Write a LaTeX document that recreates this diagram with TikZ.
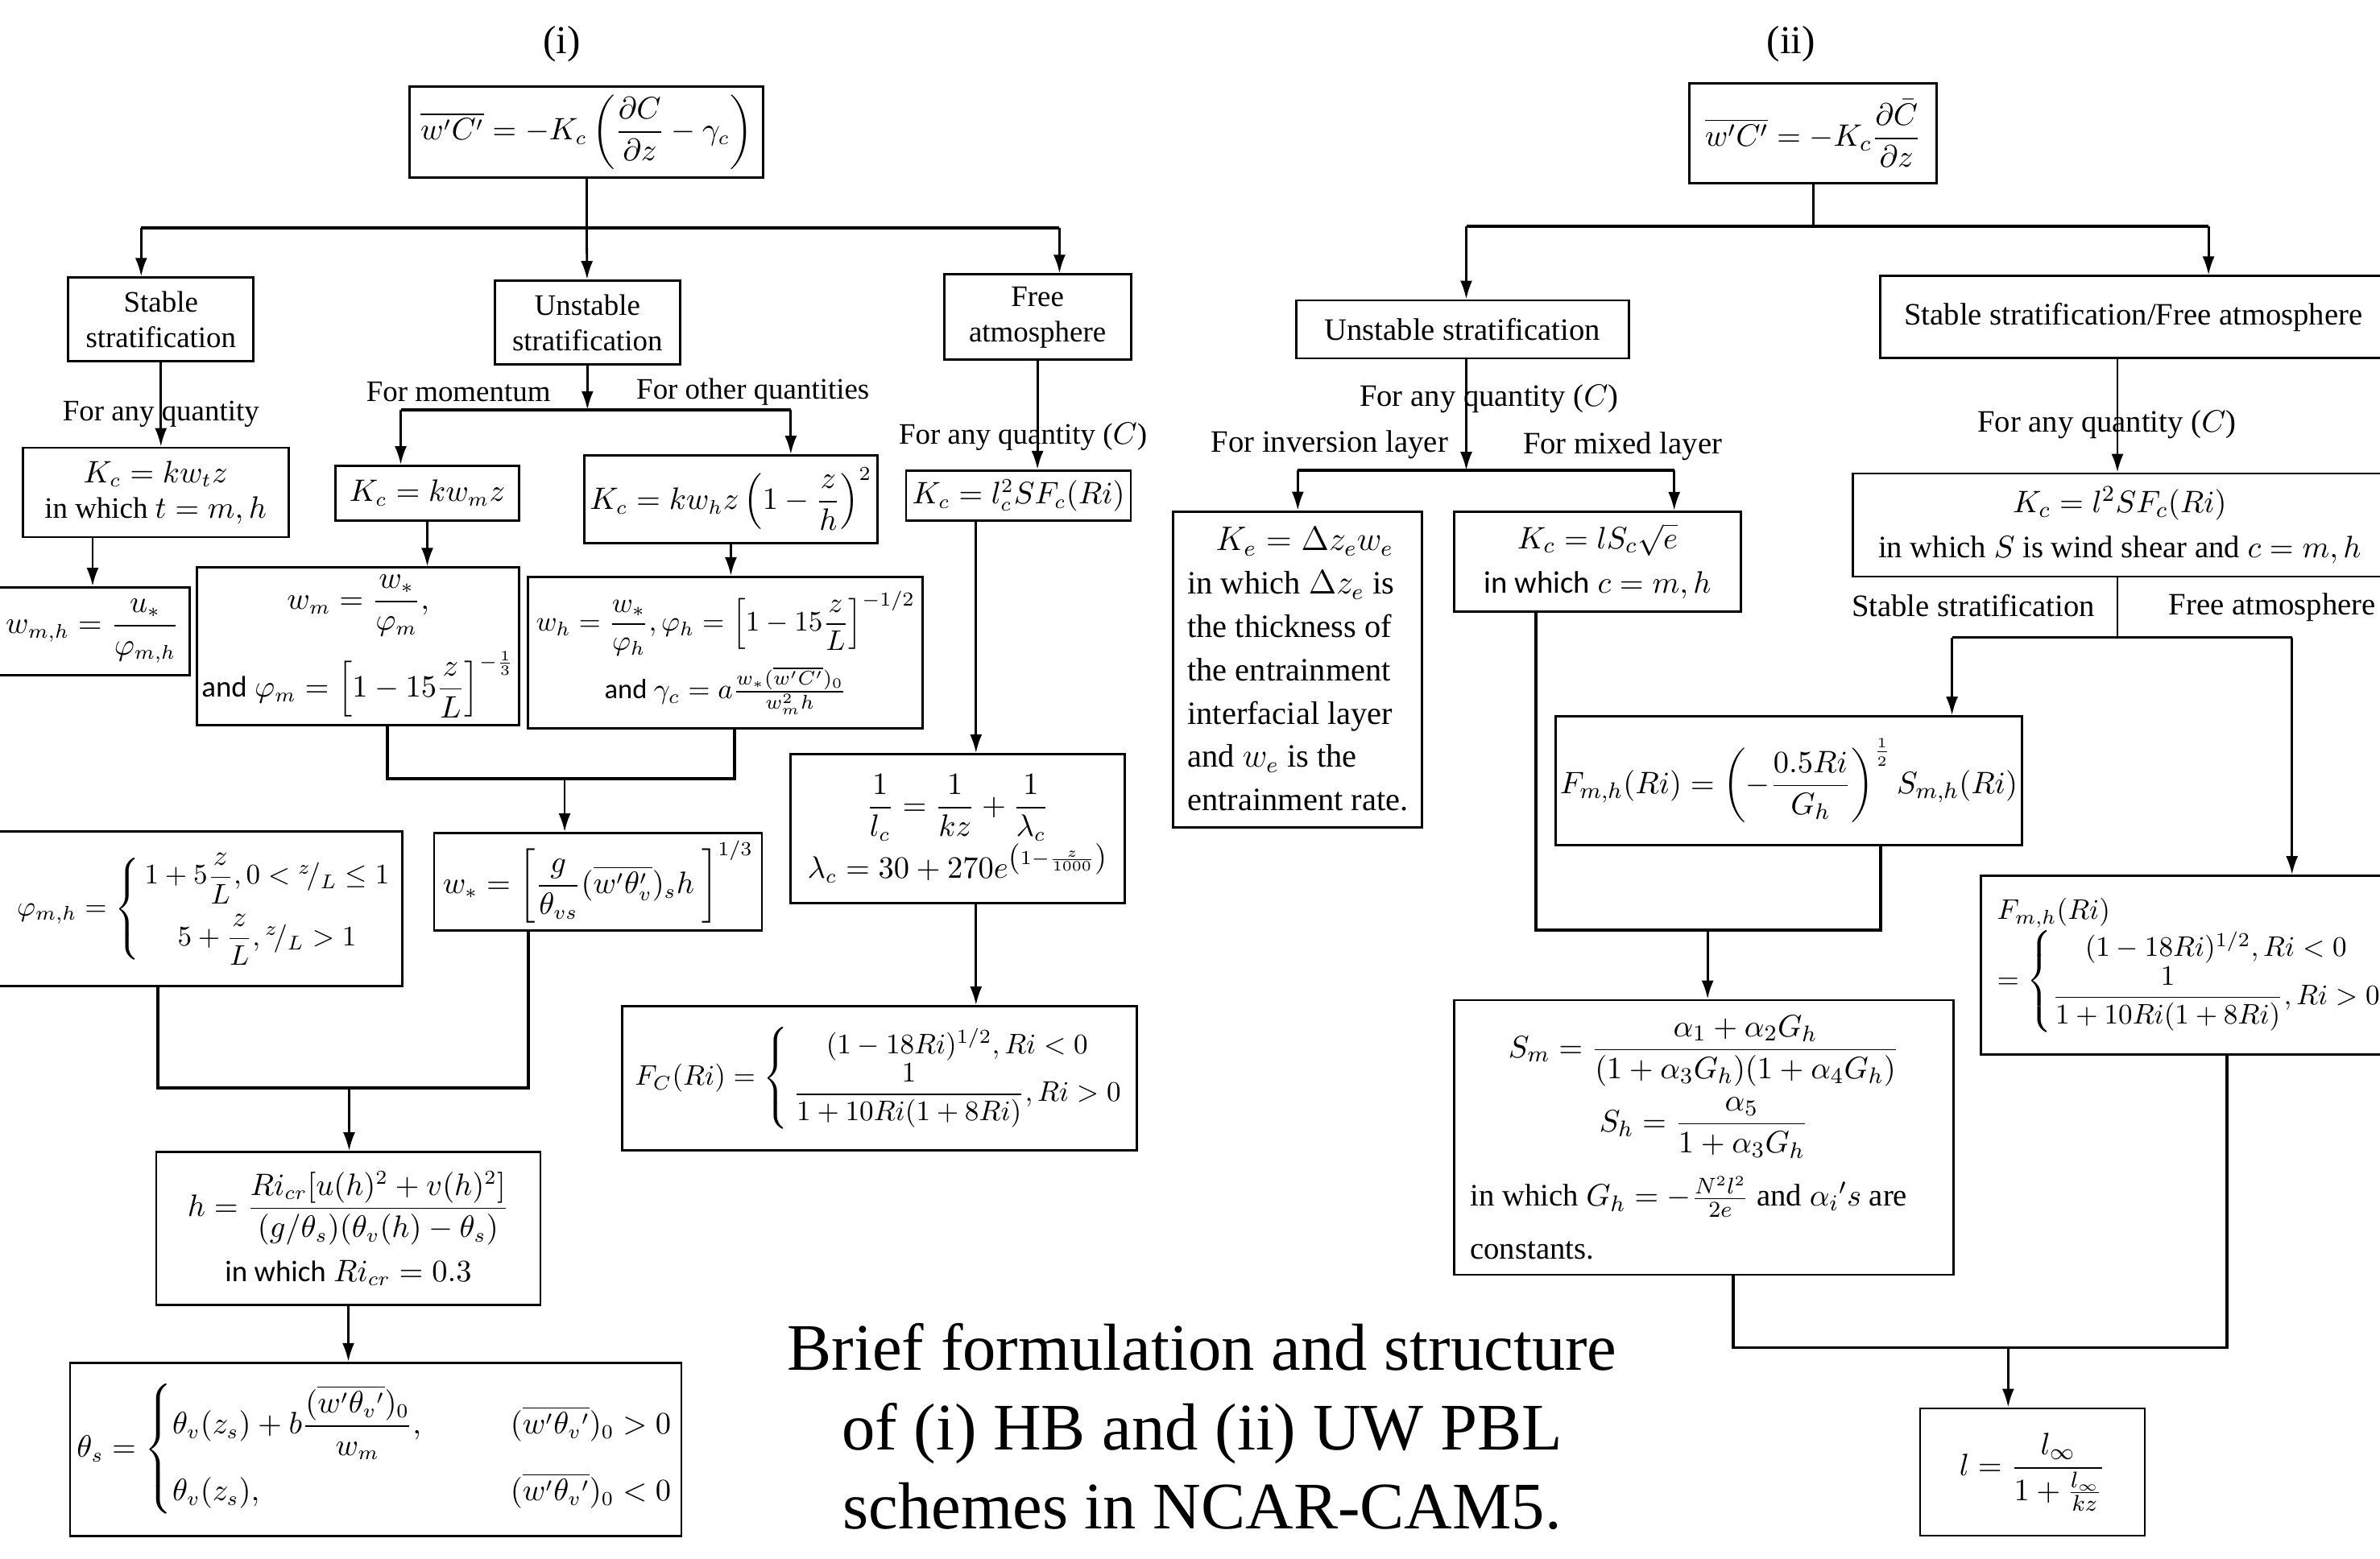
\documentclass[tikz,border=0pt]{standalone}
\usepackage{amsmath}
\usepackage{fontspec}
\setmainfont{Liberation Serif}
\newfontfamily\calfont{Carlito}
\usetikzlibrary{arrows.meta}

\begin{document}
\begin{tikzpicture}[x=0.18846mm, y=-0.18846mm, thick, >={Latex[length=2.3mm,width=1.5mm]},
    main/.style = {draw, rectangle, inner sep=1pt, align=center, font=\fontsize{10.5}{12.5}\selectfont},
    rmain/.style = {main, font=\fontsize{11}{13}\selectfont},
    lbl/.style = {inner sep=0pt, font=\fontsize{10.5}{12.5}\selectfont},
    rlbl/.style = {inner sep=0pt, font=\fontsize{11}{13}\selectfont},
    bar/.style = {line width=1.1pt}]
    \useasboundingbox (0,0) rectangle (1568,1027);

    % (i) HB scheme
    \node[font=\fontsize{14}{16}\selectfont] (ti) at (370,29) {(i)};
    \node[main, minimum width=43.9mm, minimum height=11.3mm] (top1) at (386.5,87) {$\overline{w'C'} = -K_c\left(\dfrac{\partial C}{\partial z} - \gamma_c\right)$};
    \node[main, minimum width=23mm, minimum height=10.4mm] (stab1) at (106,210.5) {Stable\\stratification};
    \node[main, minimum width=23mm, minimum height=10.4mm] (unst1) at (387,212.5) {Unstable\\stratification};
    \node[main, minimum width=23.2mm, minimum height=10.6mm] (free1) at (683.5,209) {Free\\atmosphere};
    \node[main, minimum width=33mm, minimum height=11.1mm] (kt) at (102.5,324.5) {$K_c = kw_tz$\\in which $t = m,h$};
    \node[main, minimum width=22.8mm, minimum height=6.8mm] (km) at (281.5,325) {$K_c = kw_mz$};
    \node[main, minimum width=36.4mm, minimum height=10.9mm] (kh) at (481.5,329) {$K_c = kw_hz\left(1-\dfrac{z}{h}\right)^2$};
    \node[main, minimum width=27.9mm, minimum height=6.2mm] (kl) at (671,326.5) {$K_c = l_c^2SF_c(Ri)$};
    \node[main, minimum width=24.1mm, minimum height=10.9mm] (wmh) at (61,416) {$w_{m,h} = \dfrac{u_*}{\varphi_{m,h}}$};
    \node[main, minimum width=40mm, minimum height=19.6mm] (wm) at (236,426) {$w_m = \dfrac{w_*}{\varphi_m},$\\[1.5mm] {\calfont and} $\varphi_m = \left[1-15\dfrac{z}{L}\right]^{-\frac{1}{3}}$};
    \node[main, font=\fontsize{9.8}{12}\selectfont, minimum width=49mm, minimum height=18.8mm] (wh) at (478,430) {$w_h = \dfrac{w_*}{\varphi_h}, \varphi_h = \left[1-15\dfrac{z}{L}\right]^{-1/2}$\\[1mm] {\calfont and} $\gamma_c = a\frac{w_*(\overline{w'C'})_0}{w_m^2h}$};
    \node[main, minimum width=40.7mm, minimum height=12.1mm] (wst) at (394,581) {$w_* = \left[\dfrac{g}{\theta_{vs}}(\overline{w'\theta'_v})_sh\ \right]^{1/3}$};
    \node[main, font=\fontsize{10.2}{12}\selectfont, minimum width=50.5mm, minimum height=19.2mm] (phi) at (131,599) {\hspace*{1.5mm}$\varphi_{m,h} = \left\{\begin{array}{@{\,}c@{}} 1+5\dfrac{z}{L}, 0<{}^{z}\!/_{L}\le 1\\[2.5mm] 5+\dfrac{z}{L}, {}^{z}\!/_{L}>1\end{array}\right.$};
    \node[main, minimum width=47.7mm, minimum height=19mm] (hbox) at (229.5,809.5) {$h = \dfrac{Ri_{cr}[u(h)^2+v(h)^2]}{(g/\theta_s)(\theta_v(h)-\theta_s)}$\\[1.5mm] {\calfont in which} $Ri_{cr} = 0.3$};
    \node[main, minimum width=75.9mm, minimum height=21.5mm] (ths) at (247.5,955) {$\theta_s = \begin{cases}\theta_v(z_s)+b\dfrac{(\overline{w'\theta_v{}'})_0}{w_m}, & \qquad(\overline{w'\theta_v{}'})_0>0\\[3mm] \theta_v(z_s), & \qquad(\overline{w'\theta_v{}'})_0<0\end{cases}$};
    \node[main, minimum width=41.5mm, minimum height=18.5mm] (lc) at (631,546) {$\dfrac{1}{l_c} = \dfrac{1}{kz}+\dfrac{1}{\lambda_c}$\\ $\lambda_c = 30+270e^{\left(1-\frac{z}{1000}\right)}$};
    \node[main, font=\fontsize{10.2}{12}\selectfont, minimum width=63.9mm, minimum height=17.9mm] (fc) at (579.5,710.5) {$F_C(Ri) = \left\{\begin{array}{@{\,}c@{}}(1-18Ri)^{1/2}, Ri<0\\ \dfrac{1}{1+10Ri(1+8Ri)}, Ri>0\end{array}\right.$};

    \node[lbl] (q1) at (106,273) {For any quantity};
    \node[lbl] (q2) at (302,258) {For momentum};
    \node[lbl] (q3) at (496,258) {For other quantities};
    \node[lbl] (q4) at (674,288) {For any quantity ($C$)};

    \coordinate (bL) at (93,150);
    \coordinate (bR) at (698,150);
    \draw (top1) -- (top1 |- bL);
    \draw[bar] (bL) -- (bR);
    \draw[->] (bL) -- (bL |- stab1.north);
    \draw[->] (top1 |- bL) -- (unst1);
    \draw[->] (bR) -- (bR |- free1.north);
    \draw[->] (stab1) -- (stab1 |- kt.north);
    \coordinate (mL) at (264,270);
    \coordinate (mR) at (521,270);
    \draw[->] (unst1) -- (unst1 |- mL);
    \draw[bar] (mL) -- (mR);
    \draw[->] (mL) -- (mL |- km.north);
    \draw[->] (mR) -- (mR |- kh.north);
    \draw[->] (free1) -- (free1 |- kl.north);
    \draw[->] (wmh |- kt.south) -- (wmh);
    \draw[->] (km) -- (km |- wm.north);
    \draw[->] (kh) -- (kh |- wh.north);
    \coordinate (c1) at (255,513);
    \coordinate (c2) at (484,513);
    \coordinate (c3) at (372,513);
    \draw[bar] (wm.south -| c1) -- (c1) -- (c2) -- (wh.south -| c2);
    \draw[->] (c3) -- (c3 |- wst.north);
    \coordinate (d1) at (104,717);
    \coordinate (d2) at (348,717);
    \coordinate (d3) at (230,717);
    \draw[bar] (phi.south -| d1) -- (d1) -- (d2) -- (wst.south -| d2);
    \draw[->] (d3) -- (d3 |- hbox.north);
    \draw[->] (hbox) -- (hbox |- ths.north);
    \coordinate (e1) at (643,0);
    \draw[->] (kl.south -| e1) -- (lc.north -| e1);
    \draw[->] (lc.south -| e1) -- (fc.north -| e1);

    % (ii) UW scheme
    \node[font=\fontsize{14}{16}\selectfont] (tii) at (1180,29) {(ii)};
    \node[rmain, minimum width=30.7mm, minimum height=12.4mm] (top2) at (1194.5,88) {$\overline{w'C'} = -K_c\dfrac{\partial\bar{C}}{\partial z}$};
    \node[rmain, minimum width=41.3mm, minimum height=7.2mm] (unst2) at (963.5,217) {Unstable stratification};
    \node[rmain, minimum width=62.8mm, minimum height=10.2mm] (sf2) at (1405.5,209) {Stable stratification/Free atmosphere};
    \node[rmain, align=left, font=\fontsize{11.5}{15.3}\selectfont, minimum width=30.9mm, minimum height=39.2mm] (ke) at (855,441) {\hspace*{3.5mm}$K_e = \Delta z_ew_e$\\in which $\Delta z_e$ is\\the thickness of\\the entrainment\\interfacial layer\\and $w_e$ is the\\entrainment rate.};
    \node[rmain, minimum width=35.6mm, minimum height=12.4mm] (kc2) at (1052.5,370) {$K_c = lS_c\sqrt{e}$\\[1mm] {\calfont in which} $c = m,h$};
    \node[rmain, minimum width=66.2mm, minimum height=12.8mm] (kl2) at (1396.5,346) {$K_c = l^2SF_c(Ri)$\\[1mm] in which $S$ is wind shear and $c = m,h$};
    \node[rmain, minimum width=57.9mm, minimum height=16mm] (fmh) at (1178.5,514.5) {$F_{m,h}(Ri) = \left(-\dfrac{0.5Ri}{G_h}\right)^{\frac{1}{2}} S_{m,h}(Ri)$};
    \node[rmain, font=\fontsize{10.3}{12.5}\selectfont, align=left, text width=47.8mm, inner xsep=2mm, minimum height=22.2mm] (fmh2) at (1442.5,636) {$F_{m,h}(Ri)$\\ \mbox{$= \left\{\begin{array}{@{}c@{}}(1-18Ri)^{1/2}, Ri<0\\ \dfrac{1}{1+10Ri(1+8Ri)}, Ri>0\end{array}\right.$}};
    \node[rmain, minimum width=62mm, minimum height=34.1mm] (sm) at (1122.5,749.5) {$S_m = \dfrac{\alpha_1+\alpha_2G_h}{(1+\alpha_3G_h)(1+\alpha_4G_h)}$\\[1mm] $S_h = \dfrac{\alpha_5}{1+\alpha_3G_h}$\\[2mm] \makebox[58mm][l]{in which $G_h = -\frac{N^2l^2}{2e}$ and $\alpha_i{}'s$ are}\\[2mm] \makebox[58mm][l]{constants.}};
    \node[rmain, minimum width=27.9mm, minimum height=15.8mm] (lbox) at (1339,970) {$l = \dfrac{l_\infty}{1+\frac{l_\infty}{kz}}$};

    \node[rlbl] (r1) at (981,263) {For any quantity ($C$)};
    \node[rlbl] (r2) at (876,293) {For inversion layer};
    \node[rlbl] (r3) at (1069,294) {For mixed layer};
    \node[rlbl] (r4) at (1388,280) {For any quantity ($C$)};
    \node[rlbl] (r5) at (1300,399) {Stable stratification};
    \node[rlbl] (r6) at (1497,400) {Free atmosphere};

    \coordinate (gL) at (966,149);
    \coordinate (gR) at (1455,149);
    \draw (top2) -- (top2 |- gL);
    \draw[bar] (gL) -- (gR);
    \draw[->] (gL) -- (gL |- unst2.north);
    \draw[->] (gR) -- (gR |- sf2.north);
    \coordinate (sx) at (1395,0);
    \draw[->] (sf2.south -| sx) -- (kl2.north -| sx);
    \coordinate (hL) at (855,310);
    \coordinate (hR) at (1103,310);
    \draw[->] (unst2.south -| gL) -- (hL -| gL);
    \draw[bar] (hL) -- (hR);
    \draw[->] (hL) -- (hL |- ke.north);
    \draw[->] (hR) -- (hR |- kc2.north);
    \coordinate (kL) at (1286,420);
    \coordinate (kR) at (1510,420);
    \draw (kl2.south -| sx) -- (kL -| sx);
    \draw[bar] (kL) -- (kR);
    \draw[->] (kL) -- (kL |- fmh.north);
    \draw[->] (kR) -- (kR |- fmh2.north);
    \coordinate (n1) at (1012,613);
    \coordinate (n2) at (1239,613);
    \coordinate (n3) at (1125,613);
    \draw[bar] (kc2.south -| n1) -- (n1) -- (n2) -- (fmh.south -| n2);
    \draw[->] (n3) -- (n3 |- sm.north);
    \coordinate (o1) at (1142,888);
    \coordinate (o2) at (1467,888);
    \coordinate (o3) at (1323,888);
    \draw[bar] (sm.south -| o1) -- (o1) -- (o2) -- (fmh2.south -| o2);
    \draw[->] (o3) -- (o3 |- lbox.north);

    \node[align=center, font=\fontsize{23.5}{28}\selectfont] (title) at (792,940) {Brief formulation and structure\\of (i) HB and (ii) UW PBL\\schemes in NCAR-CAM5.};
\end{tikzpicture}
\end{document}
